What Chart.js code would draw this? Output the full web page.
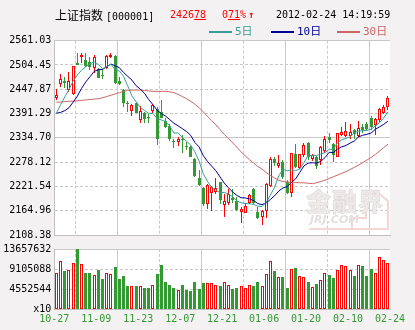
<!DOCTYPE html>
<html lang="zh-CN">
<head>
<meta charset="UTF-8">
<title>上证指数 日K线</title>
<script src="https://cdn.jsdelivr.net/npm/chart.js"></script>
<style>
  html, body { margin: 0; padding: 0; background: #f3f1f1; }
  #wrap { position: relative; width: 415px; height: 330px; overflow: hidden;
          font-family: "DejaVu Sans Mono", monospace; }
  canvas { position: absolute; left: 0; }
  #kline { top: 0; }
  #vol { top: 240px; }
  .hd { position: absolute; top: 9px; white-space: nowrap; font-size: 10px; line-height: 12px; color: #000; }
  .hd.red { color: #ff0000; }
  .hd u { text-underline-offset: 1px; }
  .cjk { font-family: "Noto Sans CJK SC", sans-serif; font-size: 12px; }
  .lg { position: absolute; top: 26px; height: 12px; line-height: 12px; white-space: nowrap;
        font-size: 11px; font-family: "DejaVu Sans Mono", "Noto Sans CJK SC", monospace; }
  .lg i { display: inline-block; width: 23px; height: 2px; vertical-align: middle; margin-right: 3px; }
  #mark { position: absolute; left: 300px; top: 180px; z-index: 1; }
  #logo { position: absolute; left: 306px; top: 186px; color: #eeeaea; z-index: 2; }
  #logo .cn { font-family: "Noto Sans CJK SC", sans-serif; font-weight: 900; font-size: 25px; line-height: 28px;
              letter-spacing: 1px; -webkit-text-stroke: 0.6px #ddd8d8; }
  #logo .en { font-family: "DejaVu Sans", sans-serif; font-weight: bold; font-style: italic; font-size: 11px;
              line-height: 12px; margin-left: 4px; color: #e4e0e0; }
</style>
</head>
<body>
<div id="wrap">
  <canvas id="kline" width="415" height="250"></canvas>
  <canvas id="vol" width="415" height="90"></canvas>

  <div class="hd" style="left:55px"><span class="cjk">上证指数</span><span style="margin-left:3px">[000001]</span></div>
  <div class="hd red" style="left:170px">2426<u>78</u></div>
  <div class="hd red" style="left:222px">0<u>71</u>%<b style="margin-left:2px">↑</b></div>
  <div class="hd" style="left:276px">2012-02-24 14:19:59</div>

  <div class="lg" style="left:209px"><i style="background:#3a9e98"></i><span style="color:#3a9e98">5日</span></div>
  <div class="lg" style="left:271px"><i style="background:#000099"></i><span style="color:#000099">10日</span></div>
  <div class="lg" style="left:337px"><i style="background:#cc6666"></i><span style="color:#cc6666">30日</span></div>

  <!-- 水印 -->
  <svg id="mark" width="95" height="55">
    <path d="M9 49 H52 V38 H66 V21 L77 12 L88 21 V49 H52" fill="none" stroke="#f4d6d6" stroke-width="2"/>
  </svg>
  <div id="logo"><div class="cn">金融界</div><div class="en">JRJ.COM</div></div>
</div>

<script>
// 日K线数据（2011-10-27 至 2012-02-24，共80个交易日）
const openP = [2428, 2459, 2466, 2446, 2436, 2510, 2522, 2516, 2511, 2497,
               2494, 2481, 2497, 2522, 2525, 2466, 2446, 2417, 2398, 2415,
               2376, 2392, 2384, 2397, 2403, 2396, 2375, 2362, 2328, 2325,
               2333, 2316, 2314, 2285, 2242, 2219, 2180, 2207, 2209, 2231,
               2179, 2184, 2195, 2187, 2163, 2160, 2182, 2215, 2162, 2150,
               2165, 2223, 2285, 2268, 2279, 2233, 2207, 2298, 2264, 2295,
               2323, 2285, 2289, 2282, 2303, 2337, 2320, 2291, 2341, 2338,
               2338, 2353, 2340, 2361, 2368, 2382, 2365, 2376, 2393, 2407];
const highP = [2448, 2483, 2477, 2487, 2503, 2532, 2533, 2532, 2524, 2527,
               2498, 2494, 2528, 2532, 2528, 2477, 2448, 2421, 2413, 2419,
               2409, 2396, 2390, 2413, 2407, 2423, 2380, 2368, 2333, 2337,
               2341, 2326, 2316, 2287, 2260, 2221, 2227, 2223, 2242, 2233,
               2204, 2215, 2216, 2198, 2174, 2184, 2204, 2217, 2174, 2167,
               2229, 2291, 2289, 2295, 2283, 2236, 2300, 2320, 2298, 2322,
               2326, 2298, 2292, 2316, 2338, 2345, 2323, 2347, 2360, 2372,
               2368, 2355, 2374, 2368, 2372, 2386, 2382, 2405, 2412, 2432];
const lowP = [2422, 2454, 2452, 2442, 2434, 2504, 2510, 2500, 2493, 2485,
              2473, 2471, 2494, 2520, 2460, 2458, 2407, 2396, 2386, 2392,
              2369, 2370, 2370, 2392, 2318, 2380, 2357, 2328, 2310, 2316,
              2300, 2306, 2289, 2244, 2223, 2177, 2168, 2165, 2205, 2181,
              2151, 2179, 2182, 2165, 2136, 2159, 2180, 2181, 2146, 2132,
              2147, 2221, 2268, 2264, 2240, 2204, 2196, 2264, 2262, 2290,
              2283, 2280, 2261, 2271, 2300, 2322, 2279, 2289, 2338, 2336,
              2331, 2331, 2337, 2345, 2350, 2352, 2341, 2372, 2390, 2400];
const closeP = [2435, 2471, 2463, 2466, 2502, 2504, 2527, 2503, 2500, 2524,
                2475, 2478, 2525, 2528, 2463, 2459, 2415, 2414, 2411, 2393,
                2397, 2378, 2380, 2411, 2331, 2382, 2359, 2331, 2326, 2333,
                2330, 2313, 2289, 2246, 2226, 2181, 2224, 2221, 2217, 2190,
                2187, 2204, 2190, 2167, 2170, 2177, 2202, 2182, 2147, 2165,
                2227, 2286, 2275, 2277, 2244, 2206, 2299, 2266, 2296, 2318,
                2291, 2295, 2268, 2314, 2333, 2330, 2294, 2345, 2349, 2350,
                2348, 2344, 2358, 2352, 2355, 2361, 2379, 2403, 2407, 2426.78];

// 成交量（单位：x10）
const volume = [8255000, 10881000, 8555000, 8930000, 10506000, 13657632, 10281000, 8105000, 8105000, 7804000,
                8780000, 6754000, 8255000, 8029000, 9455000, 6754000, 7429000, 5178000, 5328000, 5178000,
                5328000, 4728000, 4728000, 5553000, 7879000, 9906000, 6078000, 5403000, 4728000, 4277000,
                5403000, 4277000, 4052000, 6078000, 4503000, 5853000, 5853000, 5853000, 5403000, 5178000,
                6078000, 5403000, 4503000, 4728000, 5178000, 4728000, 5403000, 5178000, 6078000, 5178000,
                7879000, 11031000, 8555000, 7204000, 7204000, 4728000, 9005000, 9230000, 7429000, 7204000,
                6078000, 4953000, 5628000, 6529000, 8105000, 7654000, 6979000, 8780000, 9906000, 9680000,
                8780000, 7429000, 9906000, 9680000, 7429000, 9005000, 8105000, 11932000, 11256000, 10581000];

// 均线
const ma5 = [2392, 2412, 2430, 2447, 2467.4, 2481.2, 2492.4, 2500.4, 2507.2, 2511.6,
             2505.8, 2496, 2500.4, 2506, 2493.8, 2490.6, 2478, 2455.8, 2432.4, 2418.4,
             2406, 2398.6, 2391.8, 2391.8, 2379.4, 2376.4, 2372.6, 2362.8, 2345.8, 2346.2,
             2335.8, 2326.6, 2318.2, 2302.2, 2280.8, 2251, 2233.2, 2219.6, 2213.8, 2206.6,
             2207.8, 2203.8, 2197.6, 2187.6, 2183.6, 2181.6, 2181.2, 2179.6, 2175.6, 2174.6,
             2184.6, 2201.4, 2220, 2246, 2261.8, 2257.6, 2260.2, 2258.4, 2262.2, 2277,
             2294, 2293.2, 2293.6, 2297.2, 2300.2, 2308, 2307.8, 2323.2, 2330.2, 2333.6,
             2337, 2347, 2350.4, 2351.2, 2352.2, 2355, 2362, 2370.2, 2381, 2395];
const ma10 = [2392, 2394, 2398, 2405, 2418, 2432, 2450, 2465, 2477, 2489.5,
              2493.5, 2494.2, 2500.4, 2506.6, 2502.7, 2498.2, 2487, 2478.1, 2469.2, 2456.1,
              2448.3, 2438.3, 2423.8, 2412.1, 2398.9, 2391.2, 2385.6, 2377.3, 2368.8, 2362.8,
              2356.1, 2349.6, 2340.5, 2324, 2313.5, 2293.4, 2279.9, 2268.9, 2258, 2243.7,
              2229.4, 2218.5, 2208.6, 2200.7, 2195.1, 2194.7, 2192.5, 2188.6, 2181.6, 2179.1,
              2183.1, 2191.3, 2199.8, 2210.8, 2218.2, 2221.1, 2230.8, 2239.2, 2254.1, 2269.4,
              2275.8, 2276.7, 2276, 2279.7, 2288.6, 2301, 2300.5, 2308.4, 2313.7, 2316.9,
              2322.5, 2327.4, 2336.8, 2340.7, 2342.9, 2346, 2354.5, 2360.3, 2366.1, 2373.6];
const ma30 = [2418, 2418, 2419, 2420, 2420, 2421, 2422, 2423, 2424, 2425,
              2426, 2428, 2431, 2434, 2437, 2440, 2443, 2445, 2446, 2446,
              2446, 2445, 2444, 2443, 2443, 2443, 2443, 2442, 2440, 2436,
              2431, 2426, 2420, 2413, 2405, 2395, 2385, 2375, 2365, 2354,
              2343, 2333, 2323, 2313, 2302, 2293, 2284, 2276, 2268, 2262,
              2254, 2247, 2241, 2236, 2233, 2232, 2231, 2231, 2230, 2230,
              2229, 2228, 2230, 2233, 2236, 2240, 2244, 2248, 2252, 2256,
              2261, 2266, 2271, 2277, 2283, 2289, 2296, 2304, 2312, 2320];

const xTickLabels = ['10-27', '11-09', '11-23', '12-07', '12-21', '01-06', '01-20', '02-10', '02-24'];
const priceTicks = [2108.38, 2164.96, 2221.54, 2278.12, 2334.70, 2391.29, 2447.87, 2504.45, 2561.03];
const volTicks = [0, 4552544, 9105088, 13657632];
const volTickLabels = ['x10', '4552544', '9105088', '13657632'];

const RED = '#ff0000';
const GREEN = '#339933';
const GRID = '#c8c8c8';
const EDGE = '#c0c0c0';
const MONO = { family: '"DejaVu Sans Mono", monospace', size: 10 };

const up = closeP.map((c, i) => c >= openP[i]);
// 竖向网格线：每10根K线一条
const gridAt = Array.from({ length: 9 }, (_, k) => k * 10 - 0.5);

// 绘图区白底
const plotBg = {
  id: 'plotBg',
  beforeDraw(chart) {
    const { ctx, chartArea: a } = chart;
    ctx.save();
    ctx.fillStyle = '#ffffff';
    ctx.fillRect(a.left, a.top, a.right - a.left, a.bottom - a.top);
    ctx.restore();
  }
};

// 柱子对齐到整像素，K线边缘清晰
const snapBars = {
  id: 'snapBars',
  afterDatasetsUpdate(chart) {
    chart.data.datasets.forEach((ds, di) => {
      const meta = chart.getDatasetMeta(di);
      if (meta.type !== 'bar') return;
      meta.data.forEach(el => {
        el.x = Math.floor(el.x) + 0.5;
        el.y = Math.round(el.y);
        el.base = Math.round(el.base);
        if (Math.abs(el.y - el.base) < 1) el.base = el.y + 1;
      });
    });
  }
};

// 中间实线，其余虚线
function dashFor(solidIdx) {
  return ctx => (ctx.type === 'tick' && !solidIdx.includes(ctx.index)) ? [3, 2] : [];
}

function xAxis(showLabels) {
  return {
    type: 'linear',
    min: -0.5,
    max: 79.5,
    offset: false,
    afterBuildTicks: s => { s.ticks = gridAt.map(v => ({ value: v })); },
    ticks: {
      display: showLabels,
      autoSkip: false,
      maxRotation: 0,
      padding: 4,
      color: GREEN,
      font: MONO,
      callback: (v, i) => xTickLabels[i]
    },
    grid: { color: GRID, drawTicks: false },
    border: { color: EDGE, dash: dashFor([0, 2, 4, 6, 8]) },
    afterFit: s => { s.height = showLabels ? 16 : 0; }
  };
}

new Chart(document.getElementById('kline'), {
  type: 'bar',
  data: {
    datasets: [
      {
        label: 'MA5', type: 'line', order: 0,
        data: ma5.map((v, i) => ({ x: i, y: v })),
        borderColor: '#3a9e98', borderWidth: 1, pointRadius: 0, tension: 0
      },
      {
        label: 'MA10', type: 'line', order: 0,
        data: ma10.map((v, i) => ({ x: i, y: v })),
        borderColor: '#000099', borderWidth: 1, pointRadius: 0, tension: 0
      },
      {
        label: 'MA30', type: 'line', order: 0,
        data: ma30.map((v, i) => ({ x: i, y: v })),
        borderColor: '#cc6666', borderWidth: 1, pointRadius: 0, tension: 0
      },
      {
        label: '实体', order: 1, grouped: false,
        data: openP.map((o, i) => ({ x: i, y: [o, closeP[i]] })),
        backgroundColor: up.map(u => u ? '#ffffff' : GREEN),
        borderColor: up.map(u => u ? RED : GREEN),
        borderWidth: up.map(u => u ? 1 : 0),
        borderSkipped: false,
        inflateAmount: 0,
        barThickness: 3,
        minBarLength: 1
      },
      {
        label: '影线', order: 2, grouped: false,
        data: lowP.map((l, i) => ({ x: i, y: [l, highP[i]] })),
        backgroundColor: up.map(u => u ? RED : GREEN),
        borderWidth: 0,
        inflateAmount: 0,
        barThickness: 1
      }
    ]
  },
  options: {
    responsive: false,
    animation: false,
    events: [],
    layout: { padding: { top: 40.7, right: 25, bottom: 15, left: 0 } },
    plugins: { legend: { display: false }, tooltip: { enabled: false } },
    scales: {
      x: xAxis(false),
      y: {
        min: priceTicks[0],
        max: priceTicks[priceTicks.length - 1],
        afterBuildTicks: s => { s.ticks = priceTicks.map(v => ({ value: v })); },
        afterFit: s => { s.width = 54.3; },
        ticks: { color: '#000', font: MONO, padding: 3, callback: v => v.toFixed(2) },
        grid: { color: GRID, drawTicks: false },
        border: { color: EDGE, dash: dashFor([0, 4, 8]) }
      }
    }
  },
  plugins: [plotBg, snapBars]
});

new Chart(document.getElementById('vol'), {
  type: 'bar',
  data: {
    datasets: [{
      label: '成交量', grouped: false,
      data: volume.map((v, i) => ({ x: i, y: v })),
      backgroundColor: up.map(u => u ? '#ffffff' : GREEN),
      borderColor: up.map(u => u ? RED : GREEN),
      borderWidth: up.map(u => u ? 1 : 0),
      borderSkipped: false,
      inflateAmount: 0,
      barThickness: 3
    }]
  },
  options: {
    responsive: false,
    animation: false,
    events: [],
    layout: { padding: { top: 8.3, right: 25, bottom: 5, left: 0 } },
    plugins: { legend: { display: false }, tooltip: { enabled: false } },
    scales: {
      x: xAxis(true),
      y: {
        min: 0,
        max: volTicks[volTicks.length - 1],
        afterBuildTicks: s => { s.ticks = volTicks.map(v => ({ value: v })); },
        afterFit: s => { s.width = 54.3; },
        ticks: { color: '#000', font: MONO, padding: 3, callback: (v, i) => volTickLabels[i] },
        grid: { color: GRID, drawTicks: false },
        border: { color: EDGE, dash: dashFor([0, 3]) }
      }
    }
  },
  plugins: [plotBg, snapBars]
});
</script>
</body>
</html>
